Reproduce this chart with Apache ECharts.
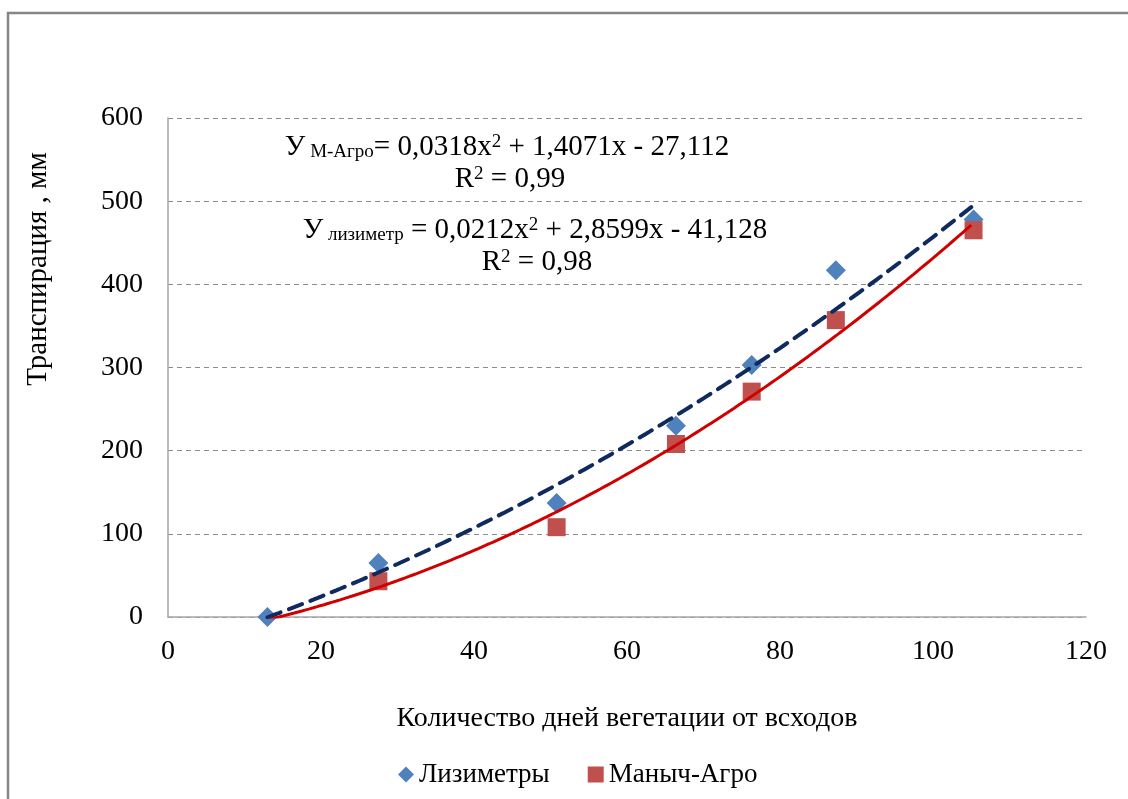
<!DOCTYPE html>
<html>
<head>
<meta charset="utf-8">
<script src="https://cdn.jsdelivr.net/npm/echarts@6/dist/echarts.min.js"></script>
<style>
  html, body { margin: 0; padding: 0; background: #fff; }
  #chart { width: 1128px; height: 799px; }
</style>
</head>
<body>
<div id="chart"></div>
<script>
// measured points
var lysX = [13, 27.5, 50.8, 66.4, 76.3, 87.3, 105.3];
var lysY = [0, 65, 137, 230, 303, 417, 478];
var agroX = [27.5, 50.8, 66.4, 76.3, 87.3, 105.3];
var agroY = [43, 108, 208, 271, 357, 465];

// trendline coefficients as printed on the chart: a*x^2 + b*x + c
var lysCoef = [0.0212, 2.8599, -41.128];
var agroCoef = [0.0318, 1.4071, -27.112];
var trendRange = [13, 105.3];

var xTicks = [0, 20, 40, 60, 80, 100, 120];
var yTicks = [0, 100, 200, 300, 400, 500, 600];

var FONT = '"Liberation Serif", "Times New Roman", serif';

function pairs (xs, ys) {
    var out = [];
    for (var i = 0; i < xs.length; i++) out.push([xs[i], ys[i]]);
    return out;
}

function trend (coef) {
    var out = [];
    for (var x = trendRange[0]; x <= trendRange[1] + 1e-9; x += 0.5) {
        out.push([x, coef[0] * x * x + coef[1] * x + coef[2]]);
    }
    return out;
}

var chart = echarts.init(document.getElementById('chart'));

var eqRich = {
    b: { fontFamily: FONT, fontSize: 29, color: '#000' },
    s: { fontFamily: FONT, fontSize: 19, color: '#000', verticalAlign: 'bottom' },
    p: { fontFamily: FONT, fontSize: 19, color: '#000', verticalAlign: 'top' }
};

chart.setOption({
    animation: false,
    backgroundColor: '#fff',
    grid: { left: 168, right: 42, top: 118, bottom: 182, containLabel: false },
    xAxis: {
        type: 'value',
        min: 0, max: 120, interval: 20,
        axisLine: { show: true, lineStyle: { color: '#a6a6a6', width: 1.5 } },
        axisTick: { show: false },
        splitLine: { show: false },
        axisLabel: { color: '#000', fontFamily: FONT, fontSize: 28, margin: 21,
            formatter: function (v) { return xTicks.indexOf(v) >= 0 ? String(v) : ''; } },
        name: 'Количество дней вегетации от всходов',
        nameLocation: 'middle',
        nameGap: 88,
        nameTextStyle: { color: '#000', fontFamily: FONT, fontSize: 28 }
    },
    yAxis: {
        type: 'value',
        min: 0, max: 600, interval: 100,
        axisLine: { show: true, lineStyle: { color: '#a6a6a6', width: 1.5 } },
        axisTick: { show: false },
        splitLine: { show: true, lineStyle: { color: '#8c8c8c', type: [5, 4], width: 1 } },
        axisLabel: { color: '#000', fontFamily: FONT, fontSize: 28, margin: 25,
            formatter: function (v) { return yTicks.indexOf(v) >= 0 ? String(v) : ''; } }
    },
    legend: {
        data: ['Лизиметры', 'Маныч-Агро'],
        left: 393, top: 756,
        itemGap: 38, itemWidth: 16, itemHeight: 16,
        textStyle: { color: '#000', fontFamily: FONT, fontSize: 27 }
    },
    graphic: [
        { type: 'rect', silent: true, z: 100,
          shape: { x: 8, y: 13, width: 1300, height: 1000 },
          style: { fill: 'none', stroke: '#868686', lineWidth: 2.5 } },
        { type: 'text', x: 38, y: 269, rotation: Math.PI / 2, z: 100,
          style: { text: 'Транспирация , мм', fontFamily: FONT, fontSize: 29, fill: '#000',
                   align: 'center', verticalAlign: 'middle' } },
        { type: 'text', x: 507, y: 147, z: 100,
          style: { text: '{b|У}{s| М-Агро}{b|= 0,0318x}{p|2}{b| + 1,4071x - 27,112}', rich: eqRich,
                   align: 'center', verticalAlign: 'middle' } },
        { type: 'text', x: 510, y: 179, z: 100,
          style: { text: '{b|R}{p|2}{b| = 0,99}', rich: eqRich, align: 'center', verticalAlign: 'middle' } },
        { type: 'text', x: 535, y: 230, z: 100,
          style: { text: '{b|У}{s| лизиметр}{b| = 0,0212x}{p|2}{b| + 2,8599x - 41,128}', rich: eqRich,
                   align: 'center', verticalAlign: 'middle' } },
        { type: 'text', x: 537, y: 262, z: 100,
          style: { text: '{b|R}{p|2}{b| = 0,98}', rich: eqRich, align: 'center', verticalAlign: 'middle' } }
    ],
    series: [
        {
            name: 'Лизиметры', type: 'scatter',
            symbol: 'diamond', symbolSize: 20,
            itemStyle: { color: '#4f81bd', opacity: 1 },
            data: pairs(lysX, lysY), z: 2
        },
        {
            name: 'Маныч-Агро', type: 'scatter',
            symbol: 'rect', symbolSize: 18,
            itemStyle: { color: '#c0504d', opacity: 1 },
            data: pairs(agroX, agroY), z: 3
        },
        {
            name: 'trend-lys', type: 'line', showSymbol: false, smooth: false, clip: true,
            lineStyle: { color: '#0f2a5f', width: 4, type: [14, 9], cap: 'round' },
            data: trend(lysCoef), z: 5, silent: true
        },
        {
            name: 'trend-agro', type: 'line', showSymbol: false, smooth: false, clip: true,
            lineStyle: { color: '#d00000', width: 3 },
            data: trend(agroCoef), z: 5, silent: true
        }
    ]
});
</script>
</body>
</html>
